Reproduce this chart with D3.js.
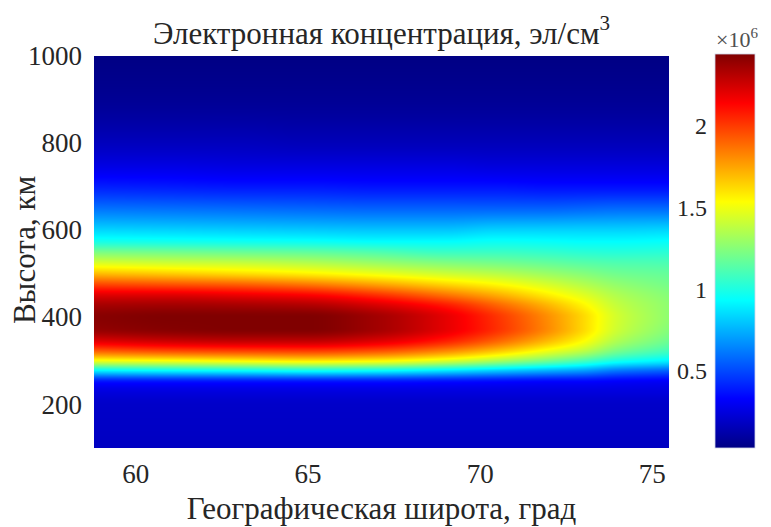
<!DOCTYPE html>
<html>
<head>
<meta charset="utf-8">
<script src="https://cdn.jsdelivr.net/npm/d3@7"></script>
<style>
body { margin: 0; background: #fff; }
</style>
</head>
<body>
<div id="chart-area"></div>
<script>
// latitude columns (deg) and altitude rows (km) of the density grid
const latitudes = [58.8, 61, 63, 65, 67, 69, 70.5, 72, 73, 74, 75.5];
const altitudes = [100, 150, 200, 225, 250, 275, 300, 325, 350, 375, 400, 425, 450,
                   475, 500, 525, 550, 575, 600, 650, 700, 750, 800, 900, 1000];

// electron density, 10^6 el/cm^3, one profile per latitude (same order as altitudes)
const density = [
    [.18, .19, .20, .24, .35, .85, 1.50, 1.95, 2.25, 2.40, 2.42, 2.36, 2.22, 1.98, 1.70, 1.45, 1.22, .98, .84, .60, .40, .26, .17, .07, .03], // 58.8
    [.18, .19, .20, .24, .35, .87, 1.52, 2.00, 2.30, 2.43, 2.44, 2.37, 2.22, 1.95, 1.66, 1.42, 1.20, .97, .83, .59, .39, .26, .17, .07, .03], // 61
    [.18, .19, .20, .24, .35, .88, 1.55, 2.02, 2.32, 2.44, 2.44, 2.36, 2.19, 1.92, 1.62, 1.40, 1.18, .96, .82, .58, .38, .25, .17, .07, .03], // 63
    [.18, .19, .20, .24, .35, .90, 1.58, 2.03, 2.32, 2.44, 2.44, 2.34, 2.15, 1.86, 1.57, 1.36, 1.16, .95, .81, .57, .38, .25, .16, .07, .03], // 65
    [.18, .19, .20, .24, .35, .88, 1.55, 1.98, 2.25, 2.36, 2.36, 2.25, 2.04, 1.76, 1.50, 1.30, 1.12, .93, .80, .56, .37, .25, .16, .07, .03], // 67
    [.18, .19, .20, .24, .34, .82, 1.45, 1.85, 2.10, 2.20, 2.20, 2.10, 1.88, 1.64, 1.42, 1.24, 1.07, .93, .80, .56, .37, .25, .16, .07, .03], // 69
    [.18, .19, .20, .24, .33, .76, 1.33, 1.70, 1.93, 2.03, 2.02, 1.92, 1.74, 1.55, 1.37, 1.21, 1.07, .95, .83, .56, .37, .24, .16, .07, .03], // 70.5
    [.18, .19, .20, .24, .32, .70, 1.20, 1.52, 1.72, 1.81, 1.80, 1.72, 1.58, 1.44, 1.30, 1.17, 1.05, .94, .83, .56, .36, .24, .16, .07, .03], // 72
    [.18, .19, .20, .24, .32, .66, 1.10, 1.40, 1.56, 1.63, 1.63, 1.57, 1.47, 1.36, 1.25, 1.14, 1.03, .93, .83, .57, .36, .24, .16, .07, .03], // 73
    [.18, .19, .20, .24, .31, .58, .98, 1.23, 1.36, 1.42, 1.43, 1.40, 1.35, 1.28, 1.20, 1.12, 1.02, .93, .83, .58, .36, .24, .16, .07, .03], // 74
    [.18, .19, .20, .24, .30, .53, .90, 1.10, 1.20, 1.25, 1.27, 1.27, 1.25, 1.21, 1.17, 1.11, 1.03, .94, .84, .58, .36, .24, .16, .07, .03]  // 75.5
];

const xTicks = [60, 65, 70, 75];
const yTicks = [200, 400, 600, 800, 1000];
const cbTicks = [0.5, 1, 1.5, 2];
const cRange = [0.03, 2.44];

const serif = "Liberation Serif";
const ink = "#262626";
const margin = { top: 56, right: 102, bottom: 79, left: 94 };
const width = 575;
const height = 392;

const svg = d3.select("#chart-area")
    .append("svg")
    .attr("width", 771)
    .attr("height", 527);

const g = svg.append("g")
    .attr("transform", "translate(" + margin.left + ", " + margin.top + ")");

const x = d3.scaleLinear().domain([58.8, 75.5]).range([0, width]);
const y = d3.scaleLinear().domain([100, 1000]).range([height, 0]);

// jet colormap
const jet = ["#000084", "#0000ff", "#00ffff", "#ffff00", "#ff0000", "#800000"];
const jetPos = [0, 0.125, 0.375, 0.625, 0.875, 1];
const colour = d3.scaleLinear()
    .domain(jetPos.map((t) => cRange[0] + t * (cRange[1] - cRange[0])))
    .range(jet)
    .clamp(true);

// monotone cubic through (xs, ys), smooth shading like "shading interp"
function monotone(xs, ys) {
    const n = xs.length;
    const d = [];
    const m = new Array(n);
    for (let i = 0; i < n - 1; i++) d.push((ys[i + 1] - ys[i]) / (xs[i + 1] - xs[i]));
    m[0] = d[0];
    m[n - 1] = d[n - 2];
    for (let i = 1; i < n - 1; i++) {
        if (d[i - 1] * d[i] <= 0) { m[i] = 0; continue; }
        const h0 = xs[i] - xs[i - 1], h1 = xs[i + 1] - xs[i];
        const w1 = 2 * h1 + h0, w2 = h1 + 2 * h0;
        m[i] = (w1 + w2) / (w1 / d[i - 1] + w2 / d[i]);
    }
    return (v) => {
        let i = d3.bisectRight(xs, v) - 1;
        i = Math.max(0, Math.min(n - 2, i));
        const h = xs[i + 1] - xs[i];
        const t = Math.max(0, Math.min(1, (v - xs[i]) / h));
        const t2 = t * t, t3 = t2 * t;
        return (2 * t3 - 3 * t2 + 1) * ys[i] + (t3 - 2 * t2 + t) * h * m[i]
            + (-2 * t3 + 3 * t2) * ys[i + 1] + (t3 - t2) * h * m[i + 1];
    };
}

/** Heatmap */
const profiles = density.map((col) => monotone(altitudes, col));
const canvas = document.createElement("canvas");
canvas.width = width;
canvas.height = height;
const ctx = canvas.getContext("2d");
const img = ctx.createImageData(width, height);
for (let py = 0; py < height; py++) {
    const alt = y.invert(py + 0.5);
    const across = monotone(latitudes, profiles.map((p) => p(alt)));
    for (let px = 0; px < width; px++) {
        const c = d3.rgb(colour(across(x.invert(px + 0.5))));
        const k = (py * width + px) * 4;
        img.data[k] = c.r;
        img.data[k + 1] = c.g;
        img.data[k + 2] = c.b;
        img.data[k + 3] = 255;
    }
}
ctx.putImageData(img, 0, 0);

g.append("image")
    .attr("x", 0)
    .attr("y", 0)
    .attr("width", width)
    .attr("height", height)
    .attr("preserveAspectRatio", "none")
    .attr("href", canvas.toDataURL());

/** Axes */
const bottomAxis = d3.axisBottom(x).tickValues(xTicks).tickSize(0).tickPadding(16);
const leftAxis = d3.axisLeft(y).tickValues(yTicks).tickSize(0).tickPadding(12).tickFormat(d3.format("d"));

const bx = g.append("g")
    .attr("class", "bottom axis")
    .attr("transform", "translate(0, " + height + ")")
    .call(bottomAxis);
const ly = g.append("g").attr("class", "left axis").call(leftAxis);
[bx, ly].forEach((a) => {
    a.attr("font-family", serif).attr("font-size", 27);
    a.select(".domain").remove();
    a.selectAll("text").attr("font-family", serif).attr("font-size", 27).attr("fill", ink);
});
bx.selectAll("text").attr("dy", "0.71em");

/** Labels */
const title = g.append("text")
    .attr("x", width / 2)
    .attr("y", -12)
    .attr("font-family", serif)
    .attr("font-size", 31)
    .attr("fill", ink)
    .attr("text-anchor", "middle")
    .text("Электронная концентрация, эл/см");
title.append("tspan").attr("dy", -14).attr("font-size", 21).text("3");

g.append("text")
    .attr("x", width / 2)
    .attr("y", height + 71)
    .attr("font-family", serif)
    .attr("font-size", 31)
    .attr("fill", ink)
    .attr("text-anchor", "middle")
    .text("Географическая широта, град");

g.append("text")
    .attr("x", -(height / 2) + 2)
    .attr("y", -59)
    .attr("font-family", serif)
    .attr("font-size", 31)
    .attr("fill", ink)
    .attr("text-anchor", "middle")
    .attr("transform", "rotate(-90)")
    .text("Высота, км");

/** Colorbar */
const cb = { x: 715, y: 54, w: 40, h: 394 };
const cy = d3.scaleLinear().domain(cRange).range([cb.y + cb.h, cb.y]);

const grad = svg.append("defs").append("linearGradient")
    .attr("id", "jet")
    .attr("x1", 0).attr("y1", 1).attr("x2", 0).attr("y2", 0);
grad.selectAll("stop")
    .data(jetPos)
    .enter()
    .append("stop")
    .attr("offset", (d) => d)
    .attr("stop-color", (d, i) => jet[i]);

svg.append("rect")
    .attr("x", cb.x)
    .attr("y", cb.y)
    .attr("width", cb.w)
    .attr("height", cb.h)
    .attr("fill", "url(#jet)")
    .attr("stroke", "#d0d4e8")
    .attr("stroke-width", 0.8);

const cbAxis = d3.axisLeft(cy).tickValues(cbTicks).tickSize(0).tickPadding(8).tickFormat((d) => d);
const ca = svg.append("g")
    .attr("transform", "translate(" + cb.x + ", 0)")
    .call(cbAxis);
ca.attr("font-family", serif).attr("font-size", 24);
ca.select(".domain").remove();
ca.selectAll("text").attr("font-family", serif).attr("font-size", 24).attr("fill", ink);

const pow = svg.append("text")
    .attr("x", 716)
    .attr("y", 47)
    .attr("font-family", serif)
    .attr("font-size", 22)
    .attr("fill", "#505050")
    .text("×10");
pow.append("tspan").attr("dy", -9).attr("font-size", 15).text("6");
</script>
</body>
</html>
